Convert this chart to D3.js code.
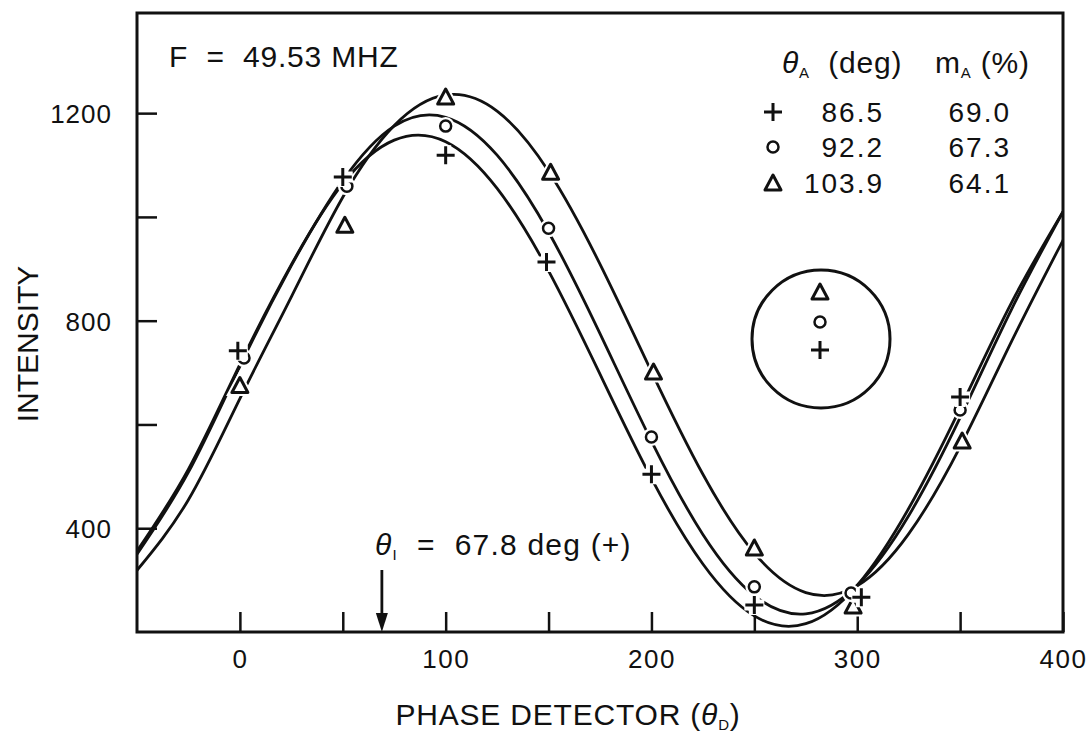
<!DOCTYPE html>
<html>
<head>
<meta charset="utf-8">
<script src="https://cdn.jsdelivr.net/npm/d3@7"></script>
<style>
  body { margin: 0; background: #fff; }
  svg { display: block; font-family: "Liberation Sans", Arial, sans-serif; }
  text { fill: #111; }
</style>
</head>
<body>
<div class="svg-div"></div>
<script>
// measured points (phase detector angle, intensity)
var plusTheta = [-1, 50, 100, 149, 200, 250, 302, 350]
var plusValue = [742, 1077, 1119, 913, 504, 252, 267, 653]
var circTheta = [2, 52, 100, 150, 200, 250, 297, 350]
var circValue = [728, 1059, 1175, 978, 576, 287, 275, 628]
var triTheta = [0, 51, 100, 151, 201, 250, 298, 351]
var triValue = [675, 984, 1231, 1086, 701, 362, 250, 568]

// fitted curves, every 25 deg
var curveTheta = [-50, -25, 0, 25, 50, 75, 100, 125, 150, 175, 200, 225, 250, 275, 300, 325, 350, 375, 400]
var plusCurve = [356, 514, 716, 908, 1064, 1148, 1145, 1055, 896, 697, 496, 331, 231, 216, 290, 438, 631, 835, 1010]
var circCurve = [350, 508, 712, 906, 1070, 1175, 1192, 1119, 971, 775, 568, 388, 270, 235, 290, 424, 613, 822, 1010]
var triCurve = [319, 455, 650, 846, 1038, 1176, 1235, 1204, 1088, 909, 702, 504, 352, 276, 289, 389, 557, 760, 955]

var xTicks = [0, 50, 100, 150, 200, 250, 300, 350, 400]
var yTicks = [400, 600, 800, 1000, 1200]

var legendTheta = ["86.5", "92.2", "103.9"]
var legendM = ["69.0", "67.3", "64.1"]
var thetaI = 69   // arrow position as drawn (labelled 67.8 deg)

var width = 1092, height = 735
var svg = d3.select(".svg-div").append("svg")
    .attr("width", width).attr("height", height)

var x = d3.scaleLinear().domain([-50, 400]).range([137, 1063])
var y = d3.scaleLinear().domain([200, 1393]).range([632, 13])

svg.append("defs").append("clipPath").attr("id", "plot-clip")
    .append("rect")
    .attr("x", x(-50)).attr("y", y(1393))
    .attr("width", x(400) - x(-50)).attr("height", y(200) - y(1393))

// axes
let xAxis = d3.axisBottom(x)
    .tickValues(xTicks)
    .tickSize(-20)
    .tickFormat(d => d % 100 === 0 ? d : "")
let gx = svg.append("g").attr("transform", "translate(0," + y(200) + ")")
xAxis(gx)
gx.select(".domain").remove()
gx.selectAll("line").attr("stroke", "#111").attr("stroke-width", 2.5)
gx.selectAll("text")
    .attr("y", 36).attr("dy", null)
    .attr("font-size", 26).attr("letter-spacing", 1.5)
    .attr("font-family", "Liberation Sans, Arial, sans-serif")
    .attr("fill", "#111")

let yAxis = d3.axisLeft(y)
    .tickValues(yTicks)
    .tickSize(-20)
    .tickPadding(25)
    .tickFormat(d => d % 400 === 0 ? d : "")
let gy = svg.append("g").attr("transform", "translate(" + x(-50) + ",0)")
yAxis(gy)
gy.select(".domain").remove()
gy.selectAll("line").attr("stroke", "#111").attr("stroke-width", 2.5)
gy.selectAll("text")
    .attr("dy", "0.36em")
    .attr("font-size", 26).attr("letter-spacing", 1)
    .attr("font-family", "Liberation Sans, Arial, sans-serif")
    .attr("fill", "#111")

// frame
svg.append("rect")
    .attr("x", x(-50)).attr("y", y(1393))
    .attr("width", x(400) - x(-50)).attr("height", y(200) - y(1393))
    .attr("fill", "none").attr("stroke", "#111").attr("stroke-width", 3)

// curves
var line = d3.line()
    .x(d => x(d[0]))
    .y(d => y(d[1]))
    .curve(d3.curveNatural)
var gCurves = svg.append("g").attr("clip-path", "url(#plot-clip)")
var curves = [plusCurve, circCurve, triCurve]
curves.forEach(function(c) {
    gCurves.append("path")
        .datum(curveTheta.map((t, i) => [t, c[i]]))
        .attr("d", line)
        .attr("fill", "none")
        .attr("stroke", "#111")
        .attr("stroke-width", 2.8)
})

// marker shapes
var plusPath = "M-9,0H9M0,-9V9"
var triPath = "M0,-8L8,7L-8,7Z"
function drawMarker(g, kind, cx, cy, halo) {
    let m = g.append("g").attr("transform", "translate(" + cx + "," + cy + ")")
    let shape
    if (kind === "plus") shape = m.append("path").attr("d", plusPath).attr("fill", "none")
    else if (kind === "circ") shape = m.append("circle").attr("r", 5.5).attr("fill", "#fff")
    else shape = m.append("path").attr("d", triPath).attr("fill", "#fff")
    if (halo) {
        // white backing makes the small breaks in the curves near each point
        let h = shape.clone(false)
        h.attr("stroke", "#fff").attr("stroke-width", 7).lower()
        if (kind === "plus") h.attr("d", "M-10,-2H10M-10,2H10M-2,-10V10M2,-10V10")
    }
    shape.attr("stroke", "#111").attr("stroke-width", kind === "circ" ? 2.5 : 3)
        .attr("stroke-linejoin", "round")
}

var gPts = svg.append("g")
var series = [
    {kind: "tri", t: triTheta, v: triValue},
    {kind: "circ", t: circTheta, v: circValue},
    {kind: "plus", t: plusTheta, v: plusValue}
]
series.forEach(function(s) {
    s.t.forEach(function(t, i) {
        drawMarker(gPts, s.kind, x(t), y(s.v[i]), true)
    })
})

// text annotations
svg.append("text")
    .attr("x", 169).attr("y", 67)
    .attr("font-size", 30).attr("letter-spacing", 0.8)
    .style("white-space", "pre")
    .text("F  =  49.53 MHZ")

// legend table
var lg = svg.append("g")
let h1 = lg.append("text").attr("x", 782).attr("y", 73).attr("font-size", 30).attr("letter-spacing", 0.8)
h1.append("tspan").attr("font-style", "italic").text("θ")
h1.append("tspan").attr("font-size", 15).attr("dy", 5).text("A")
h1.append("tspan").attr("dy", -5).style("white-space", "pre").text("  (deg)")
let h2 = lg.append("text").attr("x", 935).attr("y", 73).attr("font-size", 30).attr("letter-spacing", 0.8)
h2.append("tspan").text("m")
h2.append("tspan").attr("font-size", 15).attr("dy", 5).text("A")
h2.append("tspan").attr("dy", -5).style("white-space", "pre").text(" (%)")

var rowY = [122, 157, 193]
var rowKinds = ["plus", "circ", "tri"]
rowKinds.forEach(function(k, i) {
    drawMarker(lg, k, 773, rowY[i] - 10, false)
    lg.append("text").attr("x", 884).attr("y", rowY[i])
        .attr("font-size", 28).attr("text-anchor", "end").attr("letter-spacing", 2)
        .text(legendTheta[i])
    lg.append("text").attr("x", 1011).attr("y", rowY[i])
        .attr("font-size", 28).attr("text-anchor", "end").attr("letter-spacing", 2)
        .text(legendM[i])
})

// inset circle with the three markers
var inset = svg.append("g")
inset.append("circle").attr("cx", 821).attr("cy", 339).attr("r", 69)
    .attr("fill", "none").attr("stroke", "#111").attr("stroke-width", 3)
drawMarker(inset, "tri", 820, 292, false)
drawMarker(inset, "circ", 820, 322, false)
drawMarker(inset, "plus", 820, 350, false)

// theta_I arrow
var ax = x(thetaI)
svg.append("line")
    .attr("x1", ax).attr("x2", ax)
    .attr("y1", 570).attr("y2", y(200) - 14)
    .attr("stroke", "#111").attr("stroke-width", 2.8)
svg.append("path")
    .attr("d", "M" + (ax - 6) + "," + (y(200) - 19) + "L" + (ax + 6) + "," + (y(200) - 19) + "L" + ax + "," + y(200) + "Z")
    .attr("fill", "#111")
let ti = svg.append("text").attr("x", 375).attr("y", 555).attr("font-size", 30).attr("letter-spacing", 1.2)
ti.append("tspan").attr("font-style", "italic").text("θ")
ti.append("tspan").attr("font-size", 15).attr("dy", 5).text("I")
ti.append("tspan").attr("dy", -5).style("white-space", "pre").text("  =  67.8 deg (+)")

// axis titles
let xt = svg.append("text").attr("x", 568).attr("y", 725)
    .attr("font-size", 30).attr("text-anchor", "middle").attr("letter-spacing", 0.8)
xt.append("tspan").text("PHASE DETECTOR (")
xt.append("tspan").attr("font-style", "italic").text("θ")
xt.append("tspan").attr("font-size", 15).attr("dy", 5).text("D")
xt.append("tspan").attr("dy", -5).text(")")

svg.append("text")
    .attr("transform", "translate(38,344) rotate(-90)")
    .attr("font-size", 30).attr("text-anchor", "middle")
    .text("INTENSITY")
</script>
</body>
</html>
